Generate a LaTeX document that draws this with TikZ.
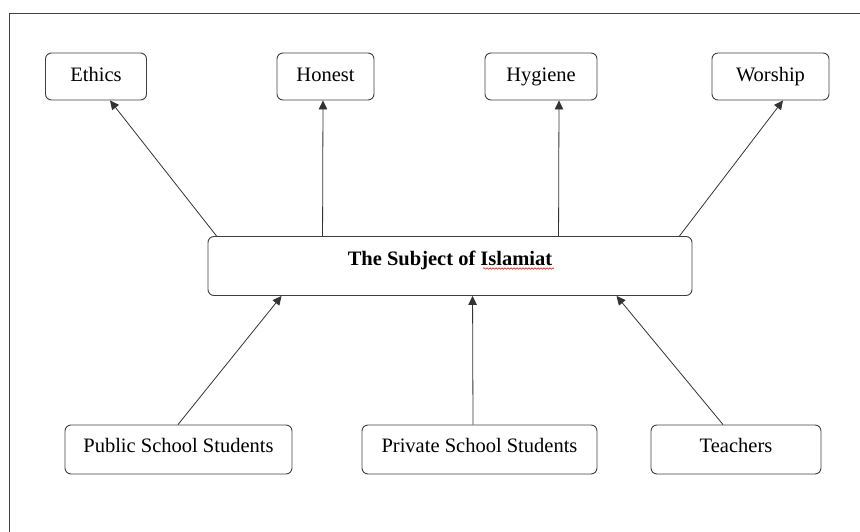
\documentclass[tikz,border=0pt]{standalone}
\usepackage{fontspec}
\setmainfont{Liberation Serif}
\usetikzlibrary{arrows.meta,decorations.pathmorphing}
\begin{document}
\begin{tikzpicture}[x=1pt,y=-1pt,
  box/.style={draw=black!75,line width=0.9pt,rounded corners=6pt,inner sep=0pt,
    minimum height=47pt,text height=14pt,text depth=4pt,font=\fontsize{20.5}{24}\selectfont},
  lowbox/.style={box,minimum height=49pt,text height=14pt,text depth=8pt},
  arr/.style={draw=black!80,line width=0.8pt,-{Triangle[length=9pt,width=8.5pt]}}]
\useasboundingbox (0,0) rectangle (860,532);
\draw[black!75,line width=0.9pt] (9,532) -- (9,13) -- (860,13);
% top boxes
\node[box,minimum width=101pt] (ethics) at (96,76.5) {Ethics};
\node[box,minimum width=97pt] (honest) at (325.5,76.5) {Honest};
\node[box,minimum width=112pt] (hygiene) at (541,76.5) {Hygiene};
\node[box,minimum width=117pt] (worship) at (770.5,76.5) {Worship};
% central
\node[box,minimum width=484pt,minimum height=0pt,text height=29pt,text depth=30pt,
  font=\fontsize{20.5}{24}\selectfont\bfseries] (c) at (450,266) {The Subject of Islamiat};
\draw[red,line width=0.5pt,decorate,decoration={snake,segment length=3pt,amplitude=0.8pt}]
  (483,268.5) -- (554,268.5);
% bottom boxes
\node[lowbox,minimum width=227pt] (public) at (178.5,449.5) {Public School Students};
\node[lowbox,minimum width=235pt] (private) at (479.5,449.5) {Private School Students};
\node[lowbox,minimum width=170pt] (teachers) at (736,449.5) {Teachers};
% arrows up
\draw[arr] ([xshift=9pt]c.north west) -- ([xshift=14pt]ethics.south);
\draw[arr] ([xshift=115pt]c.north west) -- ([xshift=-2.5pt]honest.south);
\draw[arr] ([xshift=351pt]c.north west) -- ([xshift=18pt]hygiene.south);
\draw[arr] ([xshift=-13pt]c.north east) -- ([xshift=12.5pt]worship.south);
\draw[arr] ([xshift=-0.5pt]public.north) -- ([xshift=74pt]c.south west);
\draw[arr] ([xshift=-6.5pt]private.north) -- ([xshift=265pt]c.south west);
\draw[arr] ([xshift=-13pt]teachers.north) -- ([xshift=409pt]c.south west);
\end{tikzpicture}
\end{document}
